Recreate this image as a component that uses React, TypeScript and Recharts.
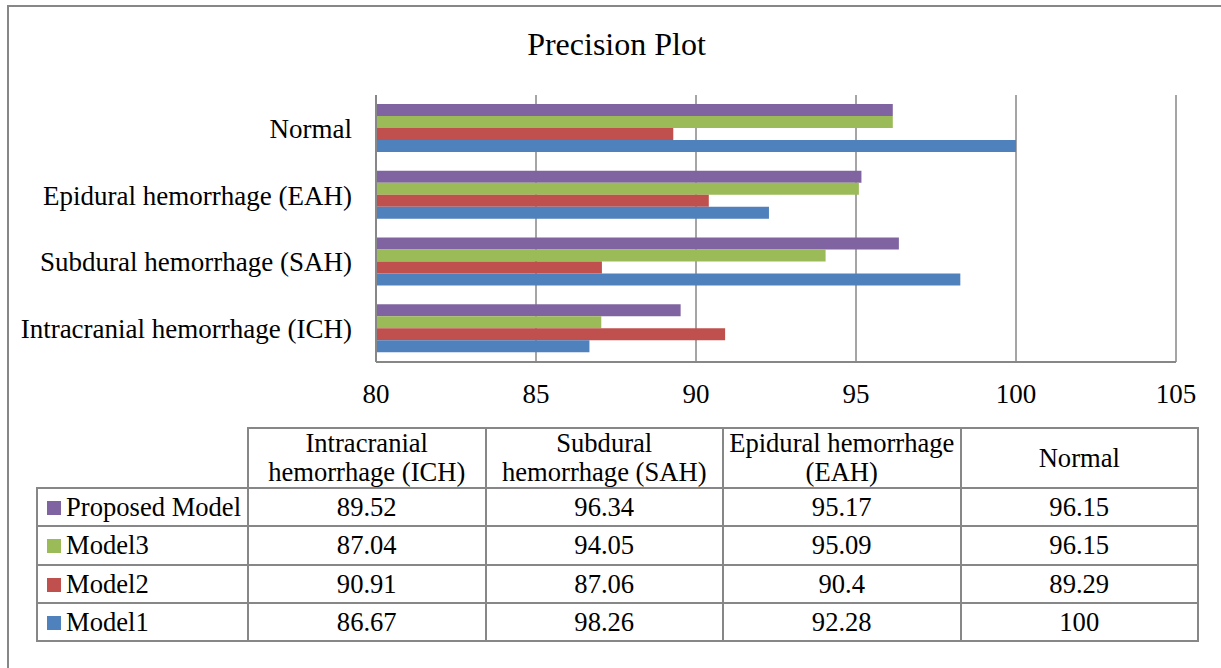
import React from "react";
import { BarChart, Bar, XAxis, YAxis, CartesianGrid } from "recharts";

const FONT = '"Liberation Serif", "Times New Roman", serif';
const GREY = "#878787";

// table / chart column order
const categories = [
  "Intracranial hemorrhage (ICH)",
  "Subdural hemorrhage (SAH)",
  "Epidural hemorrhage (EAH)",
  "Normal",
];
const headerLines = [
  ["Intracranial", "hemorrhage (ICH)"],
  ["Subdural", "hemorrhage (SAH)"],
  ["Epidural hemorrhage", "(EAH)"],
  ["Normal"],
];

const proposed = [89.52, 96.34, 95.17, 96.15];
const model3 = [87.04, 94.05, 95.09, 96.15];
const model2 = [90.91, 87.06, 90.4, 89.29];
const model1 = [86.67, 98.26, 92.28, 100];

const xTicks = [80, 85, 90, 95, 100, 105];

const series = [
  { key: "proposed", name: "Proposed Model", color: "#8064A2", values: proposed },
  { key: "model3", name: "Model3", color: "#9BBB59", values: model3 },
  { key: "model2", name: "Model2", color: "#C0504D", values: model2 },
  { key: "model1", name: "Model1", color: "#4F81BD", values: model1 },
];

// Normal sits on top in the chart, so reverse for the plot
const chartData = categories
  .map((name, i) => {
    const row: any = { name };
    series.forEach((s) => (row[s.key] = s.values[i]));
    return row;
  })
  .reverse();

const YTick = ({ x, y, payload }: any) => (
  <text x={x} y={y} dy="0.35em" textAnchor="end" fill="#000" fontSize={27} fontFamily={FONT}>
    {payload.value}
  </text>
);

const cellBorder = `2px solid ${GREY}`;
const cellBase: React.CSSProperties = {
  border: cellBorder,
  padding: 0,
  textAlign: "center",
  fontSize: 26.6,
  fontFamily: FONT,
  color: "#000",
};

export default function App() {
  return (
    <div style={{ position: "absolute", left: 0, top: 0, width: 1221, height: 668, overflow: "hidden", background: "#fff" }}>
      <div style={{ position: "absolute", left: 7, top: 5, width: 1300, height: 800, border: `2px solid ${GREY}` }} />

      <div style={{ position: "absolute", left: 0, top: 28, width: 1233, textAlign: "center", fontFamily: FONT, fontSize: 32, lineHeight: "32px" }}>
        Precision Plot
      </div>

      <div style={{ position: "absolute", left: 0, top: 0 }}>
        <BarChart
          width={1221}
          height={420}
          data={chartData}
          layout="vertical"
          margin={{ top: 95, right: 45, left: 0, bottom: 18 }}
          barGap={0}
        >
          <CartesianGrid horizontal={false} stroke={GREY} strokeWidth={1.5} />
          <XAxis
            type="number"
            domain={[80, 105]}
            ticks={xTicks}
            height={40}
            axisLine={{ stroke: GREY, strokeWidth: 2 }}
            tickLine={false}
            tickSize={0}
            tickMargin={22}
            tick={{ fill: "#000", fontSize: 27, fontFamily: FONT }}
          />
          <YAxis
            type="category"
            dataKey="name"
            width={376}
            axisLine={{ stroke: GREY, strokeWidth: 2 }}
            tickLine={false}
            tickSize={0}
            tickMargin={24}
            tick={<YTick />}
          />
          {series.map((s) => (
            <Bar key={s.key} dataKey={s.key} name={s.name} fill={s.color} barSize={12} isAnimationActive={false} />
          ))}
        </BarChart>
      </div>

      <table
        style={{
          position: "absolute",
          left: 36,
          top: 427,
          borderCollapse: "collapse",
          tableLayout: "fixed",
          width: 1161,
        }}
      >
        <colgroup>
          <col style={{ width: 211 }} />
          {categories.map((c) => (
            <col key={c} style={{ width: 237.5 }} />
          ))}
        </colgroup>
        <tbody>
          <tr style={{ height: 59.5 }}>
            <td style={{ border: "none", padding: 0 }} />
            {headerLines.map((lines, i) => (
              <td key={i} style={{ ...cellBase, lineHeight: "29px" }}>
                {lines.map((l, j) => (
                  <div key={j}>{l}</div>
                ))}
              </td>
            ))}
          </tr>
          {series.map((s) => (
            <tr key={s.key} style={{ height: 38.3 }}>
              <td style={{ ...cellBase, textAlign: "left", lineHeight: "30px", whiteSpace: "nowrap" }}>
                <span
                  style={{
                    display: "inline-block",
                    width: 14,
                    height: 14,
                    background: s.color,
                    marginLeft: 9,
                    marginRight: 5,
                    verticalAlign: "middle",
                    position: "relative",
                    top: -2,
                  }}
                />
                {s.name}
              </td>
              {s.values.map((v, i) => (
                <td key={i} style={{ ...cellBase, lineHeight: "30px" }}>
                  {String(v)}
                </td>
              ))}
            </tr>
          ))}
        </tbody>
      </table>
    </div>
  );
}
